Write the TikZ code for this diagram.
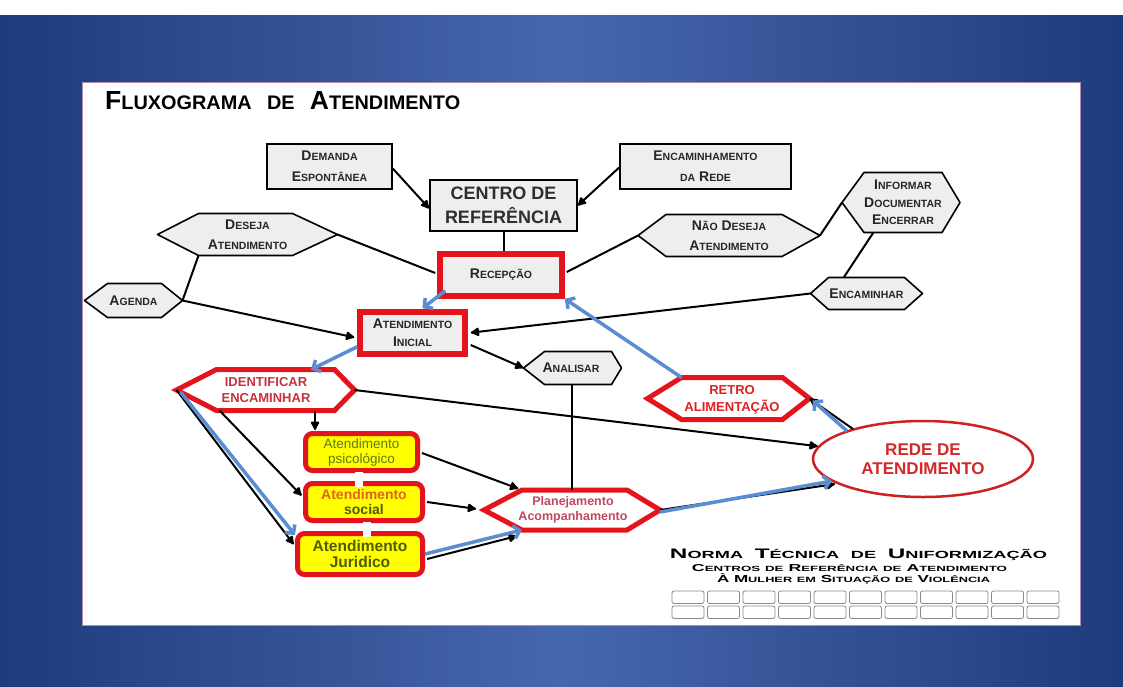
\documentclass[tikz,border=0pt]{standalone}
\usepackage{fontspec}
\setmainfont{Liberation Sans}
\usetikzlibrary{arrows.meta,calc,shapes.geometric}
\definecolor{bgdark}{HTML}{1E3B7C}
\definecolor{bglight}{HTML}{4767AD}
\definecolor{rd}{HTML}{E3141B}
\definecolor{bl}{HTML}{5B8DD3}
\definecolor{gfill}{HTML}{EEEEEE}
\definecolor{yel}{HTML}{FFFF00}
\definecolor{olivet}{HTML}{5F7A16}
\definecolor{darkolive}{HTML}{4D5C08}
\definecolor{orng}{HTML}{E0641E}
\definecolor{rtext}{HTML}{C8323E}
\definecolor{ptext}{HTML}{C24862}
\definecolor{retrot}{HTML}{E02020}
\definecolor{redet}{HTML}{D22A2A}
\definecolor{rededge}{HTML}{CC2222}
\definecolor{panelb}{HTML}{B08AA8}
\definecolor{sqc}{HTML}{8A8A8A}
\newcommand\sm[1]{\scalebox{0.75}{#1}}
% style, name, cx, cy, half width, half height, left depth, right depth
\newcommand\HexShape[8]{%
  \draw[#1] (#3-#5,#4) coordinate (#2-L) -- (#3-#5+#7,#4-#6) coordinate (#2-TL)
    -- (#3+#5-#8,#4-#6) coordinate (#2-TR) -- (#3+#5,#4) coordinate (#2-R)
    -- (#3+#5-#8,#4+#6) coordinate (#2-BR) -- (#3-#5+#7,#4+#6) coordinate (#2-BL) -- cycle;}
\begin{document}
\begin{tikzpicture}[x=1pt,y=-1pt,
  lbl/.style={font=\bfseries\fontsize{14}{19}\selectfont, align=center, inner sep=0pt, text=black!85},
  graybox/.style={draw=black, line width=1.6pt, fill=gfill, inner sep=0pt},
  redbox/.style={draw=rd, line width=5.5pt, fill=gfill, inner sep=0pt},
  yelbox/.style={draw=rd, line width=5pt, fill=yel, rounded corners=7pt, inner sep=0pt, align=center},
  ghex/.style={draw=black, line width=1.6pt, fill=gfill, line join=round},
  rhex/.style={draw=rd, line width=5pt, fill=white, line join=miter},
  conn/.style={draw=black, line width=2pt},
  blkarrow/.style={conn, -{Latex[length=10.5pt,width=10.5pt,round]}},
  bluearrow/.style={draw=bl, line width=3.5pt, -{Straight Barb[length=6pt,width=13pt]}},
  sq/.style={draw=sqc, line width=0.8pt, rounded corners=2pt},
  redlbl/.style={font=\bfseries\fontsize{13}{16}\selectfont, align=center, inner sep=0pt}
]
\useasboundingbox (0,0) rectangle (1123,686);
% background
\fill[white] (0,0) rectangle (1123,686);
\shade[left color=bgdark, right color=bgdark, middle color=bglight] (0,15) rectangle (1123,686);
\fill[white, draw=panelb, line width=1pt] (82,82) rectangle (1080,625);

% title
\node[anchor=base west, inner sep=0pt] (title) at (105,109)
  {\resizebox{355pt}{18pt}{\bfseries F\sm{LUXOGRAMA}\hspace{.3em} \sm{DE}\hspace{.3em} A\sm{TENDIMENTO}}};

% rectangular nodes
\node[graybox, minimum width=125pt, minimum height=45pt, lbl, font=\bfseries\fontsize{14}{21}\selectfont] (dem) at (329.5,166.5)
  {D\sm{EMANDA}\\E\sm{SPONTÂNEA}};
\node[graybox, minimum width=171pt, minimum height=45pt, lbl, font=\bfseries\fontsize{14}{21}\selectfont] (encr) at (705.5,166.5)
  {E\sm{NCAMINHAMENTO}\\\sm{DA} R\sm{EDE}};
\node[graybox, minimum width=147pt, minimum height=51pt, align=center,
  font=\bfseries\fontsize{18}{24}\selectfont, text=black!82] (cen) at (503.5,205.5)
  {CENTRO DE\\REFERÊNCIA};
\node[redbox, minimum width=122pt, minimum height=42pt, lbl] (rec) at (501,275) {R\sm{ECEPÇÃO}};
\node[redbox, minimum width=105pt, minimum height=42pt, lbl, font=\bfseries\fontsize{14}{18}\selectfont] (ini) at (412.5,333)
  {A\sm{TENDIMENTO}\\I\sm{NICIAL}};

% gray hexagons
\HexShape{ghex}{deseja}{247.5}{234.5}{90}{21}{41}{45}
\node[lbl, font=\bfseries\fontsize{14}{20}\selectfont] (deseja) at (247.5,234.5) {D\sm{ESEJA}\\A\sm{TENDIMENTO}};
\HexShape{ghex}{nao}{729}{235.5}{91}{21}{28}{38}
\node[lbl, font=\bfseries\fontsize{14}{20}\selectfont] (nao) at (729,235.5) {N\sm{ÃO} D\sm{ESEJA}\\A\sm{TENDIMENTO}};
\HexShape{ghex}{info}{901}{202.5}{59}{30}{22}{18}
\node[lbl, font=\bfseries\fontsize{14}{17.5}\selectfont] (info) at (903,202.5) {I\sm{NFORMAR}\\D\sm{OCUMENTAR}\\E\sm{NCERRAR}};
\HexShape{ghex}{encm}{866.5}{293.5}{56}{16}{18}{18}
\node[lbl] (encm) at (866.5,293.5) {E\sm{NCAMINHAR}};
\HexShape{ghex}{agenda}{133.5}{300.5}{49}{17}{23}{21}
\node[lbl] (agenda) at (133.5,300.5) {A\sm{GENDA}};
\HexShape{ghex}{anal}{572.5}{368}{49}{16.5}{21}{10}
\node[lbl] (anal) at (571,368) {A\sm{NALISAR}};

% red hexagons
\HexShape{rhex}{idf}{265.5}{390}{89}{20.5}{40}{20}
\node[redlbl, text=rtext] (idf) at (266,390) {IDENTIFICAR\\ENCAMINHAR};
\HexShape{rhex}{plan}{572}{510}{88}{20}{38}{33}
\node[redlbl, font=\bfseries\fontsize{12.5}{14.5}\selectfont, text=ptext] (plan) at (573,510) {Planejamento\\Acompanhamento};
\HexShape{rhex}{retro}{728.5}{398.5}{81}{21}{34}{27}
\node[redlbl, font=\bfseries\fontsize{13}{17}\selectfont, text=retrot] (retro) at (732,400) {RETRO\\ALIMENTAÇÃO};

% ellipse
\node[ellipse, draw=rededge, line width=2.5pt, fill=white, minimum width=220pt, minimum height=76pt,
  inner sep=0pt, align=center, font=\bfseries\fontsize{17}{19}\selectfont, text=redet] (rede) at (923,459)
  {REDE DE\\ATENDIMENTO};

% yellow boxes
\node[yelbox, minimum width=112pt, minimum height=37pt, font=\fontsize{13.5}{15}\selectfont, text=olivet] (psico) at (361.5,452)
  {Atendimento\\psicológico};
\node[yelbox, minimum width=117pt, minimum height=37pt, font=\bfseries\fontsize{14}{15}\selectfont] (soc) at (364,502)
  {\textcolor{orng}{Atendimento}\\\textcolor{darkolive}{social}};
\node[yelbox, minimum width=125pt, minimum height=41pt, font=\bfseries\fontsize{15.5}{16.5}\selectfont, text=darkolive] (jur) at (360,554)
  {Atendimento\\Juridico};
\fill[white] ($(psico.south)+(-6.5,-1.5)$) rectangle ($(psico.south)+(1.5,13.5)$);
\fill[white] ($(soc.south)+(-1,-1.5)$) rectangle ($(soc.south)+(7,13.5)$);

% black connectors
\draw[blkarrow] ($(dem.east)+(0,2)$) -- ($(cen.west)+(0,3)$);
\draw[blkarrow] ($(encr.west)+(0,1)$) -- (cen.east);
\draw[conn] (cen.south) -- (cen.south |- rec.north);
\draw[conn] (deseja-R) -- ($(rec.west)+(-2,-2)$);
\draw[conn] ($(rec.east)+(2,-3)$) -- (nao-L);
\draw[conn] (nao-R) -- (info-L);
\draw[conn] ($(info-BL)!0.12!(info-BR)$) -- ($(encm-TL)!0.2!(encm-TR)$);
\draw[blkarrow, shorten >=3pt] (encm-L) -- (ini.east);
\draw[conn] (deseja-BL) -- (agenda-R);
\draw[blkarrow, shorten >=3pt] (agenda-R) -- ($(ini.west)+(0,5)$);
\draw[blkarrow] ($(ini.east)+(3,12)$) -- (anal-L);
\coordinate (idfb) at ($(idf-BL)!0.835!(idf-BR)$);
\draw[blkarrow, shorten >=1pt] (idfb) -- (idfb |- psico.north);
\draw[blkarrow, shorten >=2pt] ($(idf-BL)+(3,0)$) -- ($(soc.west)+(0,-5)$);
\draw[blkarrow, shorten >=2pt] (idf-L) -- ($(jur.west)+(0,-8)$);
\draw[blkarrow] (idf-R) -- (rede);
\draw[blkarrow, shorten >=4pt] ($(psico.east)+(2,1)$) -- (plan-TL);
\draw[blkarrow, shorten >=8pt] ($(soc.east)+(2,0)$) -- (plan-L);
\draw[blkarrow] ($(jur.east)+(2,5)$) -- ($(plan-BL)+(-5,6)$);
\coordinate (analb) at ($(anal-BL)!0.41!(anal-BR)$);
\draw[conn] (analb) -- (analb |- plan-TL);
\draw[blkarrow] (plan-R) -- ($(rede.center)+(-88,25)$);
\draw[blkarrow] ($(rede.center)+(-70,-30)$) -- (retro-R);

% blue connectors
\draw[bluearrow] ($(rec.south west)+(8,-8)$) -- ($(ini.north)+(10,-1)$);
\draw[bluearrow] ($(ini.south west)+(0,-10)$) -- ($(idf-TL)!0.8!(idf-TR)$);
\draw[bluearrow] ($(idf-L)+(4,2)$) -- ($(jur.north west)+(0,4)$);
\draw[bluearrow] (jur.east) -- (plan-BL);
\draw[bluearrow] ($(plan-R)+(0,2)$) -- ($(rede.center)+(-91,22)$);
\draw[bluearrow] ($(rede.center)+(-76,-28)$) -- ($(retro-R)+(3,2)$);
\draw[bluearrow] (retro-TL) -- (rec.south east);

% Norma block
\node[anchor=base, inner sep=0pt] (norma1) at (858.5,558)
  {\resizebox{377pt}{9.5pt}{\bfseries N\sm{ORMA}\hspace{.2em} T\sm{ÉCNICA}\hspace{.2em} \sm{DE}\hspace{.2em} U\sm{NIFORMIZAÇÃO}}};
\node[anchor=base, inner sep=0pt] (norma2) at (849.5,571)
  {\resizebox{315pt}{7pt}{\bfseries C\sm{ENTROS} \sm{DE} R\sm{EFERÊNCIA} \sm{DE} A\sm{TENDIMENTO}}};
\node[anchor=base, inner sep=0pt] (norma3) at (853.5,582)
  {\resizebox{273pt}{9pt}{\bfseries À M\sm{ULHER} \sm{EM} S\sm{ITUAÇÃO} \sm{DE} V\sm{IOLÊNCIA}}};
\foreach \i in {0,...,10} {
  \draw[sq] (672+35.5*\i,591) rectangle ++(32,12.5);
  \draw[sq] (672+35.5*\i,606) rectangle ++(32,12.5);
}
\end{tikzpicture}
\end{document}
